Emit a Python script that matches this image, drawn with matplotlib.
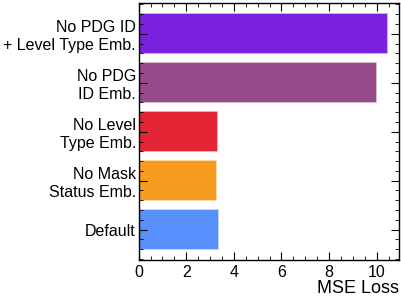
import matplotlib
matplotlib.use("Agg")
import matplotlib.pyplot as plt
from matplotlib.colors import to_rgba
from matplotlib.ticker import MultipleLocator

categories = ["Default", "No Mask\nStatus Emb.", "No Level\nType Emb.", "No PDG\nID Emb.", "No PDG ID\n+ Level Type Emb."]
mse_loss = [3.33, 3.26, 3.30, 9.96, 10.43]
colors = ["#5790fc", "#f89c20", "#e42536", "#964a8b", "#7a21dd"]

plt.rcParams['font.family'] = ['Liberation Sans', 'DejaVu Sans']

fig = plt.figure(figsize=(4.02, 2.98), dpi=100)
ax = fig.add_axes([0.345, 0.1275, 0.6475, 0.8625])

ypos = list(range(len(categories)))
edge = [to_rgba(c, 0.45) for c in colors]
ax.barh(ypos, mse_loss, height=0.8, color=colors, edgecolor=edge, linewidth=1.2)
ax.set_yticks(ypos)
ax.set_yticklabels(categories, fontsize=11.5, multialignment='right')
ax.set_ylim(-0.62, 4.63)
ax.set_xlim(0, 10.94)
ax.xaxis.set_major_locator(MultipleLocator(2))
ax.xaxis.set_minor_locator(MultipleLocator(0.5))
ax.yaxis.set_minor_locator(MultipleLocator(0.2))
ax.tick_params(which='both', direction='in', top=True, right=True)
ax.tick_params(which='major', length=6, width=0.8, labelsize=11.5)
ax.tick_params(which='minor', length=3, width=0.6)
ax.tick_params(axis='y', which='major', pad=2)
ax.set_xlabel("MSE Loss", fontsize=13, loc='right', labelpad=0)
for s in ax.spines.values():
    s.set_linewidth(1.0)

fig.savefig("out.png", dpi=100)
